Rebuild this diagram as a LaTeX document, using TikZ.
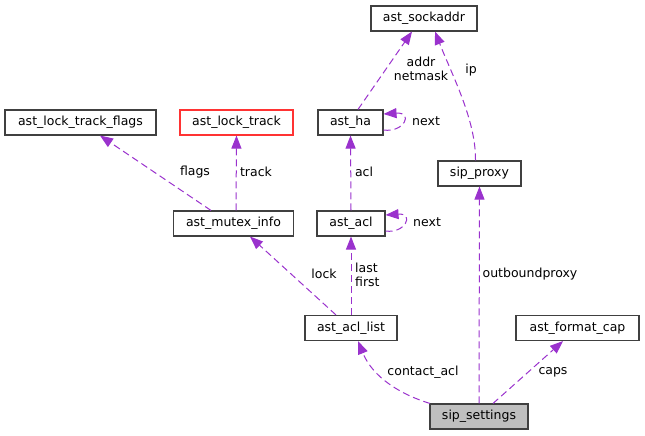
\documentclass[tikz,border=0pt]{standalone}
\usepackage{fontspec}
\setmainfont{DejaVu Sans}
\usetikzlibrary{arrows.meta,calc}
\definecolor{edgec}{HTML}{9A32CD}
\definecolor{boxc}{HTML}{404040}
\definecolor{redc}{HTML}{FF3333}
\definecolor{grayf}{HTML}{BFBFBF}
\tikzset{
  cls/.style={draw=boxc, line width=1.1pt, fill=white, minimum height=25pt, inner sep=0pt, font=\fontsize{12.5}{14}\selectfont},
  edge/.style={draw=edgec, line width=1pt, dash pattern=on 7pt off 4pt, -{Triangle[length=13pt,width=10pt,fill=edgec]}},
  lbl/.style={font=\fontsize{12.5}{14}\selectfont, inner sep=0pt, align=center}
}
\begin{document}
\begin{tikzpicture}[x=1pt,y=-1pt]
\useasboundingbox (0,0) rectangle (645,436);
% nodes
\node[cls, minimum width=106pt] (sock) at (424,18.5) {ast\_sockaddr};
\node[cls, minimum width=151pt] (ltf) at (80.5,122.5) {ast\_lock\_track\_flags};
\node[cls, minimum width=113pt, draw=redc] (lt) at (236.5,122.5) {ast\_lock\_track};
\node[cls, minimum width=65pt] (ha) at (350.5,122.5) {ast\_ha};
\node[cls, minimum width=120pt] (mi) at (233.5,223.5) {ast\_mutex\_info};
\node[cls, minimum width=68pt] (acl) at (351,223.5) {ast\_acl};
\node[cls, minimum width=83pt] (sp) at (479.5,173.5) {sip\_proxy};
\node[cls, minimum width=92pt] (al) at (351,328) {ast\_acl\_list};
\node[cls, minimum width=123pt] (fc) at (577.5,328) {ast\_format\_cap};
\node[cls, minimum width=98pt, fill=grayf] (ss) at (479,416.5) {sip\_settings};
% edges
\draw[edge] ($(mi.north)+(-22.5,0)$) -- ($(ltf.south)+(19.5,0)$);
\draw[edge] ($(mi.north)+(2.5,0)$) -- (lt.south);
\draw[edge] ($(al.north)+(-15,0)$) -- ($(mi.south)+(16.5,0)$);
\draw[edge] (al.north) -- (acl.south);
\draw[edge] (acl.north) -- (ha.south);
\draw[edge] ($(ha.east)+(0,7.5)$) .. controls (404,133) and (414,112) .. ($(ha.east)+(0,-8.5)$);
\draw[edge] ($(acl.east)+(0,7.5)$) .. controls (405,234) and (415,213) .. ($(acl.east)+(0,-8.5)$);
\draw[edge] ($(ha.north)+(7.5,0)$) -- ($(sock.south)+(-12,0)$);
\draw[edge] ($(sp.north)+(-4,0)$) .. controls (476,120) and (452,75) .. ($(sock.south)+(11,0)$);
\draw[edge] (ss.north) -- (sp.south);
\draw[edge] ($(ss.north)+(-49,0)$) .. controls (402,395) and (373,378) .. ($(al.south)+(7,0)$);
\draw[edge] ($(ss.north)+(14,0)$) -- ($(fc.south)+(-14.5,0)$);
% labels
\node[lbl] (lflags) at (195,172) {flags};
\node[lbl] (ltrack) at (256,172) {track};
\node[lbl] (llock) at (324,274) {lock};
\node[lbl, anchor=west, align=left] (llast) at (355,275) {last\\first};
\node[lbl] (lacl) at (364,172) {acl};
\node[lbl, anchor=west] (lnext1) at (412,121) {next};
\node[lbl, anchor=west] (lnext2) at (413,222) {next};
\node[lbl] (laddr) at (421,69) {addr\\netmask};
\node[lbl] (lip) at (471,70) {ip};
\node[lbl] (lob) at (530,274) {outboundproxy};
\node[lbl] (lca) at (423,372) {contact\_acl};
\node[lbl] (lcaps) at (553,372) {caps};
\end{tikzpicture}
\end{document}
